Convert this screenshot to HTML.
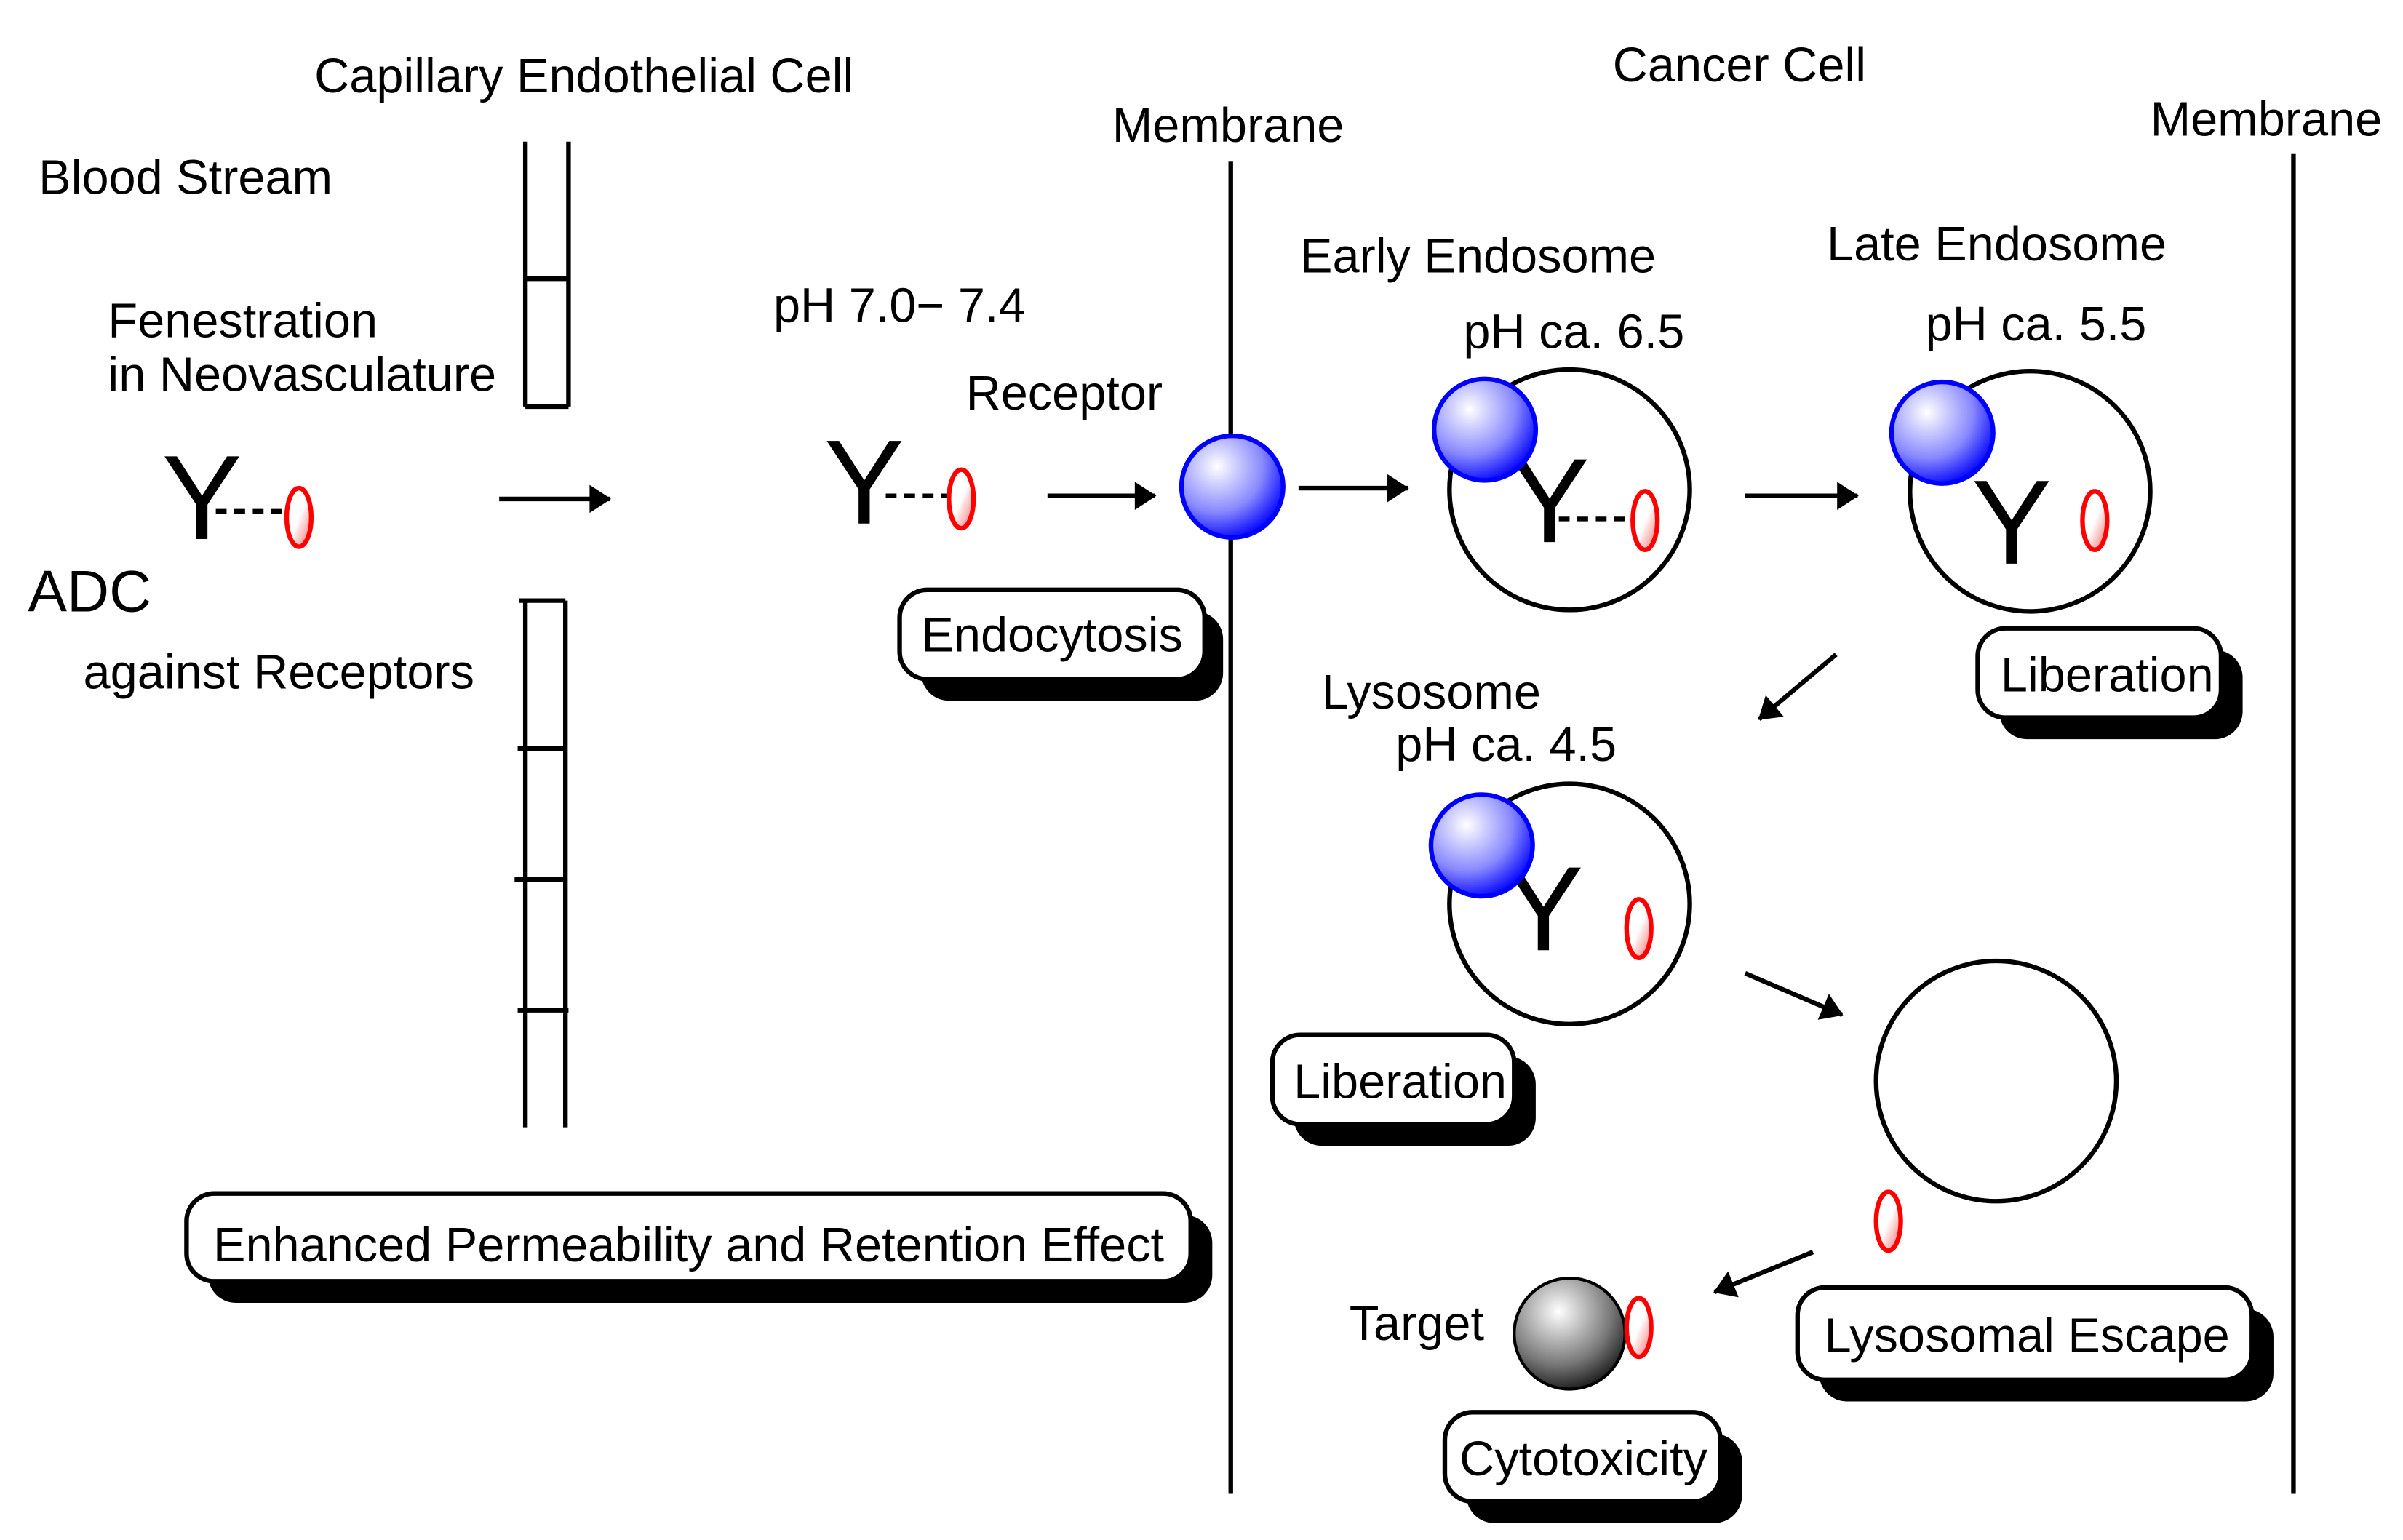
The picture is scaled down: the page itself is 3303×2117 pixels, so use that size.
<!DOCTYPE html>
<html><head><meta charset="utf-8"><style>html,body{margin:0;padding:0;background:#fff}svg{display:block}</style></head>
<body>
<svg width="3303" height="2117" viewBox="0 0 1560 1000" xmlns="http://www.w3.org/2000/svg" font-family="Liberation Sans, sans-serif">
<defs>
<radialGradient id="bl" cx="0.35" cy="0.3" r="0.75"><stop offset="0" stop-color="#fff"/><stop offset="0.6" stop-color="#8888ff"/><stop offset="1" stop-color="#0000ff"/></radialGradient>
<radialGradient id="gr" cx="0.4" cy="0.3" r="0.8"><stop offset="0" stop-color="#fff"/><stop offset="0.6" stop-color="#777"/><stop offset="1" stop-color="#000"/></radialGradient>
<linearGradient id="rd" x1="0" y1="0" x2="1" y2="1"><stop offset="0" stop-color="#fff"/><stop offset="0.5" stop-color="#fff"/><stop offset="1" stop-color="#ff6666"/></linearGradient>
<marker id="ar" viewBox="0 0 10 10" refX="9" refY="5" markerWidth="7" markerHeight="7" orient="auto" markerUnits="userSpaceOnUse" style="overflow:visible"><path d="M-20,-8 L0,5 L-20,18 Z" transform="translate(10,0)" fill="#000"/></marker>
</defs>
<g fill="#000" font-size="31.5">
<text x="204" y="60">Capillary Endothelial Cell</text>
<text x="1047" y="53">Cancer Cell</text>
<text x="722" y="92">Membrane</text>
<text x="1396" y="88">Membrane</text>
<text x="25" y="126">Blood Stream</text>
<text x="70" y="219">Fenestration</text>
<text x="70" y="254">in Neovasculature</text>
<text x="18" y="397" font-size="38">ADC</text>
<text x="54" y="447">against Receptors</text>
<text x="502" y="209">pH 7.0− 7.4</text>
<text x="627" y="266">Receptor</text>
<text x="844" y="177">Early Endosome</text>
<text x="950" y="226">pH ca. 6.5</text>
<text x="1186" y="169">Late Endosome</text>
<text x="1250" y="221">pH ca. 5.5</text>
<text x="858" y="460">Lysosome</text>
<text x="906" y="494">pH ca. 4.5</text>
<text x="876" y="870">Target</text>
</g>
<g stroke="#000" stroke-width="3" fill="none">
<line x1="799" y1="105" x2="799" y2="970"/>
<line x1="1489" y1="100" x2="1489" y2="970"/>
<line x1="341" y1="92" x2="341" y2="264"/><line x1="369" y1="92" x2="369" y2="264"/>
<line x1="341" y1="181" x2="369" y2="181"/><line x1="341" y1="264" x2="369" y2="264"/>
<line x1="341" y1="390" x2="341" y2="732"/><line x1="367" y1="390" x2="367" y2="732"/>
<line x1="337" y1="390" x2="367" y2="390"/><line x1="336" y1="486" x2="367" y2="486"/>
<line x1="334" y1="571" x2="367" y2="571"/><line x1="336" y1="656" x2="369" y2="656"/>
<circle cx="1019" cy="318" r="78"/><circle cx="1318" cy="319" r="78"/>
<circle cx="1019" cy="587" r="78"/><circle cx="1296" cy="702" r="78"/>
</g>
<g stroke="#000" stroke-width="3" stroke-dasharray="7,5">
<line x1="140" y1="332" x2="185" y2="332"/>
<line x1="575" y1="322" x2="615" y2="322"/>
<line x1="1012" y1="337" x2="1060" y2="337"/>
</g>
<g font-size="78" fill="#000">
<text x="105" y="350">Y</text><text x="535" y="340">Y</text>
<text x="980" y="352">Y</text><text x="1280" y="366">Y</text><text x="976" y="617">Y</text>
</g>
<g stroke="#00f" stroke-width="3" fill="url(#bl)">
<circle cx="800" cy="316" r="33"/><circle cx="964" cy="279" r="33"/>
<circle cx="1261" cy="281" r="33"/><circle cx="962" cy="549" r="33"/>
</g>
<circle cx="1019" cy="866" r="36" fill="url(#gr)" stroke="#000" stroke-width="2"/>
<g stroke="#f00" stroke-width="3" fill="url(#rd)">
<ellipse cx="194" cy="336" rx="8" ry="19"/><ellipse cx="624" cy="324" rx="8" ry="19"/>
<ellipse cx="1068" cy="338" rx="8" ry="19"/><ellipse cx="1360" cy="338" rx="8" ry="19"/>
<ellipse cx="1064" cy="603" rx="8" ry="19"/><ellipse cx="1226" cy="793" rx="8" ry="19"/>
<ellipse cx="1064" cy="862" rx="8" ry="19"/>
</g>
<g stroke="#000" stroke-width="3" marker-end="url(#ar)">
<line x1="324" y1="324" x2="396" y2="324"/>
<line x1="680" y1="322" x2="750" y2="322"/>
<line x1="843" y1="317" x2="914" y2="317"/>
<line x1="1133" y1="322" x2="1206" y2="322"/>
<line x1="1192" y1="425" x2="1142" y2="467"/>
<line x1="1133" y1="632" x2="1196" y2="659"/>
<line x1="1177" y1="813" x2="1113" y2="839"/>
</g>
<g font-size="31.5">
<rect x="598" y="397" width="196" height="58" rx="18" fill="#000"/>
<rect x="584" y="383" width="198" height="58" rx="18" fill="#fff" stroke="#000" stroke-width="3"/>
<text x="683" y="423" text-anchor="middle">Endocytosis</text>
<rect x="1298" y="422" width="158" height="58" rx="18" fill="#000"/>
<rect x="1284" y="408" width="158" height="58" rx="18" fill="#fff" stroke="#000" stroke-width="3"/>
<text x="1368" y="449" text-anchor="middle">Liberation</text>
<rect x="840" y="686" width="157" height="58" rx="18" fill="#000"/>
<rect x="826" y="672" width="157" height="58" rx="18" fill="#fff" stroke="#000" stroke-width="3"/>
<text x="909" y="713" text-anchor="middle">Liberation</text>
<rect x="135" y="789" width="652" height="57" rx="18" fill="#000"/>
<rect x="121" y="775" width="652" height="57" rx="18" fill="#fff" stroke="#000" stroke-width="3"/>
<text x="447" y="819" text-anchor="middle">Enhanced Permeability and Retention Effect</text>
<rect x="1181" y="850" width="295" height="60" rx="18" fill="#000"/>
<rect x="1167" y="836" width="295" height="60" rx="18" fill="#fff" stroke="#000" stroke-width="3"/>
<text x="1316" y="878" text-anchor="middle">Lysosomal Escape</text>
<rect x="952" y="931" width="179" height="58" rx="18" fill="#000"/>
<rect x="938" y="917" width="179" height="58" rx="18" fill="#fff" stroke="#000" stroke-width="3"/>
<text x="1028" y="958" text-anchor="middle">Cytotoxicity</text>
</g>
</svg>
</body></html>
